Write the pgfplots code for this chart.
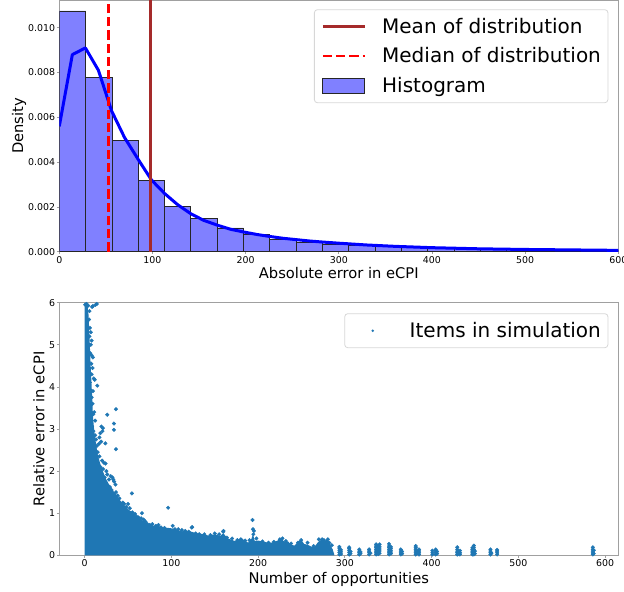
\documentclass[border=0pt]{standalone}
\usepackage{pgfplots}
\pgfplotsset{compat=1.18}
\usepackage{fontspec}
\setmainfont{DejaVu Sans}

\definecolor{histfill}{RGB}{128,128,255}
\definecolor{kdeblue}{RGB}{0,0,255}
\definecolor{meanbrown}{RGB}{165,42,42}
\definecolor{scatblue}{RGB}{31,119,180}
\definecolor{spinegray}{RGB}{160,160,160}
\definecolor{legendgray}{RGB}{215,215,215}

\pgfplotsset{
  panel/.style={
    scale only axis, width=559bp,
    axis line style={spinegray, line width=0.8bp},
    tick style={spinegray, line width=0.8bp},
    major tick length=2.5bp, tick align=outside, tick pos=left,
    /pgf/number format/assume math mode=true,
    ticklabel style={font=\fontsize{9.4bp}{11bp}\selectfont, inner sep=0pt},
    xticklabel style={anchor=north, yshift=-2bp},
    yticklabel style={anchor=east, xshift=-1.5bp},
    label style={font=\fontsize{14.7bp}{17bp}\selectfont, inner sep=0pt},
    legend cell align=left,
  },
  legbox/.style={
    legend style={
      at={(1,1)}, anchor=north east,
      draw=legendgray, line width=0.8bp, rounded corners=3bp, fill=white,
      font=\fontsize{20bp}{24bp}\selectfont,
      inner xsep=7bp, inner ysep=7bp,
      nodes={inner sep=0pt, text height=16.5bp, text depth=3.5bp},
      row sep=9.5bp, column sep=16bp,
    },
  },
  lineleg/.style={legend image code/.code={\draw[##1, sharp corners] (0bp,0bp) -- (42bp,0bp);}},
  boxleg/.style={legend image code/.code={\draw[##1, sharp corners] (0bp,-7.3bp) rectangle (42bp,7.3bp);}},
  dotleg/.style={legend image code/.code={\path[draw=none, fill=none] (0bp,-0.1bp) rectangle (42bp,0.1bp); \fill[scatblue, draw=none] (21bp,0bp) circle (1.3bp);}},
}

\begin{document}
\begin{tikzpicture}
\path[use as bounding box] (0,0) rectangle (624bp,-592bp);

% top panel: histogram of absolute error
\begin{axis}[panel, legbox,
  at={(59.3bp,-251.7bp)}, anchor=south west, height=251.7bp,
  xmin=0, xmax=600, ymin=0, ymax=0.01124,
  xtick={0,100,200,300,400,500,600},
  ytick={0,0.002,0.004,0.006,0.008,0.010},
  scaled y ticks=false,
  yticklabel style={/pgf/number format/.cd, fixed, fixed zerofill, precision=3},
  xlabel={Absolute error in eCPI},
  ylabel={Density},
  xlabel style={at={(axis description cs:0.5,0)}, anchor=north, yshift=-15.3bp},
  ylabel style={at={([xshift=-40.3bp]axis description cs:0,0.5)}, anchor=center},
  legend style={xshift=-10bp, yshift=-9.3bp},
]
\addlegendimage{meanbrown, line width=2.8bp, lineleg}
\addlegendentry{Mean of distribution}
\addlegendimage{red, line width=2.5bp, dash pattern=on 9.25bp off 4bp, lineleg}
\addlegendentry{Median of distribution}
\addlegendimage{fill=histfill, draw=black!85, line width=0.9bp, boxleg}
\addlegendentry{Histogram}

\addplot[ybar interval, fill=histfill, draw=black!85, line width=0.9bp, forget plot] coordinates {
  (0,0.01075) (28.26,0.00779) (56.52,0.00497) (84.78,0.00316) (113.04,0.00201)
  (141.3,0.00148) (169.56,0.00106) (197.82,0.00075) (226.08,0.00055) (254.34,0.00042)
  (282.6,0.00033) (310.86,0.00027) (339.12,0.00023) (367.38,0.00019) (395.64,0.00016)
  (423.9,0.00014) (452.16,0.00012) (480.42,0.00010) (508.68,0.00009) (536.94,0.00008)
  (565.2,0.00007) (593.46,0.00006) (621.72,0.00006)
};
\addplot[kdeblue, line width=3bp, line join=round, forget plot] coordinates {
  (0,0.0056) (14,0.0088) (28,0.0091) (42,0.0081) (56,0.0063) (70,0.0051)
  (85,0.0041) (99,0.0032) (113,0.0026) (127,0.0021) (141,0.0017) (155,0.0014)
  (170,0.00118) (184,0.0010) (198,0.00088) (212,0.00077) (226,0.00068)
  (240,0.00060) (254,0.00054) (268,0.00048) (283,0.00043) (300,0.00038)
  (330,0.00030) (360,0.00024) (400,0.00018) (450,0.00013) (500,0.00010)
  (550,0.00008) (600,0.00006)
};
\addplot[meanbrown, line width=3bp, forget plot] coordinates {(98.4,0) (98.4,0.0113)};
\addplot[red, line width=2.5bp, dash pattern=on 9.25bp off 4bp, forget plot] coordinates {(53.0,0) (53.0,0.0113)};
\end{axis}

% bottom panel: relative error vs opportunities
\begin{axis}[panel, legbox,
  at={(59.3bp,-555.3bp)}, anchor=south west, height=252.6bp,
  xmin=-29.3, xmax=615.3, ymin=0, ymax=6,
  xtick={0,100,200,300,400,500,600},
  ytick={0,1,2,3,4,5,6},
  xlabel={Number of opportunities},
  ylabel={Relative error in eCPI},
  xlabel style={at={(axis description cs:0.5,0)}, anchor=north, yshift=-16.4bp},
  ylabel style={at={([xshift=-20.3bp]axis description cs:0,0.5)}, anchor=center},
  legend style={xshift=-10bp, yshift=-10.6bp},
]
\addplot[fill=scatblue, draw=none, forget plot] coordinates {
  (0,0) (0,6) (3,6) (4.5,5.7) (5.5,5.2) (6.5,4.7) (7.5,4.2) (8.5,3.8) (9.5,3.3) (11,2.95)
  (13,2.65) (15,2.4) (17.5,2.2) (20,2.05) (23.7,1.85) (27,1.72) (30,1.62) (34,1.5)
  (37,1.42) (41,1.3) (46,1.18) (51,1.08) (56,1.0) (61,0.9) (66,0.84) (73.5,0.74)
  (80,0.7) (85,0.7) (90,0.66) (96.5,0.65) (104,0.63) (111.8,0.57) (118,0.58)
  (123,0.56) (130,0.52) (134.7,0.51) (142.4,0.47) (150,0.5) (156,0.46) (159.7,0.52)
  (165.4,0.4) (173,0.34) (180.7,0.41) (185,0.34) (188.4,0.3) (192,0.38) (194.1,0.5)
  (196,0.34) (200,0.35) (207.5,0.32) (213,0.29) (219,0.32) (226.7,0.39) (230,0.33)
  (234.4,0.33) (238,0.25) (242,0.23) (246,0.33) (249.6,0.37) (253,0.27) (257.3,0.25)
  (261,0.21) (265,0.2) (269,0.31) (273.7,0.39) (277,0.33) (280.3,0.39) (283,0.25)
  (286,0.14) (288,0)
} \closedcycle;
\addplot[only marks, mark=*, mark size=1.8bp, color=scatblue,
  mark options={draw=scatblue, fill=scatblue}, dotleg]
coordinates {
  (0.5,5.95) (2,5.97) (12.5,5.95) (14,5.97) (8.5,5.9) (9.5,5.92) (4,5.93) (5.5,5.8)
  (5,5.6) (6,5.4) (7,5.3) (5.5,5.2) (7,5.0) (8,5.1) (6.5,4.8) (8,4.75) (7.5,4.55) (9,4.45)
  (8,4.3) (9.5,4.7) (10.5,4.2) (11.5,4.17) (14.5,4.03) (6,4.1) (7,3.9) (8,3.75) (9,3.6)
  (9.5,3.9) (7.5,3.4) (10,3.35) (11,3.4) (12,3.2) (8.5,3.05) (10,2.95) (12,2.85) (13,2.75)
  (14,2.6) (11,2.65)
  (19.2,3.06) (21,3.02) (20.5,2.95) (18,2.9) (17,2.8) (16.5,2.65) (19,2.7) (23.8,2.66)
  (26,3.34) (33.7,3.13) (33.7,2.98) (36,3.47) (36,2.52)
  (15,2.45) (17,2.35) (20,2.25) (22,2.2) (24,2.18) (18,2.1) (21,2.05) (25,2.0) (26,1.92)
  (23,1.85) (28,1.8) (30,1.88) (32,1.85) (33,1.8) (34,1.75) (35.5,1.68) (27,1.65)
  (29,1.62) (31,1.55) (36,1.5) (38,1.42) (40,1.35) (33,1.4) (44,1.25) (45.5,1.22)
  (50,1.22) (52,1.12) (48,1.15) (42,1.2) (54.4,1.47) (46,1.05) (55,1.02) (58,0.98)
  (60,0.92) (62,0.9) (66,1.0) (65,0.88) (68,0.85) (70,0.8) (72,0.75) (75,0.72) (78,0.74)
  (82,0.7) (85,0.72) (88,0.66) (92,0.65) (96.2,1.13) (101.5,0.7) (104,0.62) (108,0.62)
  (112,0.6) (116,0.58) (120,0.56) (124,0.67) (123.5,0.66) (128,0.52) (132,0.5) (138,0.5)
  (145,0.48) (150,0.52) (155,0.5) (160,0.58) (159.7,0.56) (164,0.42) (170,0.4) (176,0.36)
  (180,0.38) (185,0.35) (190,0.36) (193.5,0.84) (194,0.62) (195,0.58) (194.5,0.5)
  (198,0.4) (205,0.33) (212,0.3) (218,0.32) (225,0.38) (228,0.4) (232,0.34) (238,0.28)
  (246,0.3) (249.6,0.36) (257,0.3) (264,0.22) (270,0.38) (273.7,0.38) (276,0.36)
  (280.3,0.38) (282,0.3) (285,0.24)
  (293.7,.02) (293.7,.07) (293.7,.12) (293.7,.17) (293.7,.20) (295.5,.03) (295.5,.08) (295.5,.13)
  (305,.02) (305,.07) (305,.12) (305,.16) (305,.19) (306.5,.04) (306.5,.09)
  (316.6,.02) (316.6,.06) (316.6,.10) (316.6,.14) (318,.04) (318,.08)
  (328,.02) (328,.06) (328,.10) (328,.14) (329.5,.05)
  (336,.02) (336,.06) (336,.10) (336,.14) (336,.18) (336,.22) (336,.26)
  (338.4,.03) (338.4,.08) (338.4,.13) (338.4,.18) (338.4,.22)
  (340,.05) (340,.10) (340,.15) (340,.20) (340,.26)
  (351,.02) (351,.06) (351,.10) (351,.14) (351,.18) (351,.22) (351,.27)
  (353,.04) (353,.08) (353,.12) (353,.16) (353,.20)
  (364.5,.02) (364.5,.06) (364.5,.10) (364.5,.14) (366,.04) (366,.09)
  (381.7,.02) (381.7,.06) (381.7,.10) (381.7,.14) (381.7,.18) (381.7,.22) (383,.05) (383,.10)
  (385.5,.02) (385.5,.06) (385.5,.10) (385.5,.14)
  (400.9,.02) (400.9,.06) (400.9,.11)
  (404.7,.02) (404.7,.06) (404.7,.10) (404.7,.14) (406.3,.04) (406.3,.09)
  (429.6,.02) (429.6,.06) (429.6,.10) (429.6,.14) (429.6,.19) (431,.04) (431,.09)
  (432.7,.02) (432.7,.06) (432.7,.11)
  (447,.02) (447,.06) (447,.10) (447,.14) (447,.18)
  (448.7,.02) (448.7,.06) (448.7,.10) (448.7,.14) (448.7,.18) (448.7,.23) (450,.04) (450,.10)
  (467.9,.02) (467.9,.06) (467.9,.10) (467.9,.14) (469,.05)
  (475.6,.02) (475.6,.06) (475.6,.10) (475.6,.13)
  (585.9,.02) (585.9,.06) (585.9,.10) (585.9,.14) (585.9,.19) (587,.04) (587,.12)
};
\addlegendentry{Items in simulation}
\end{axis}
\end{tikzpicture}
\end{document}
